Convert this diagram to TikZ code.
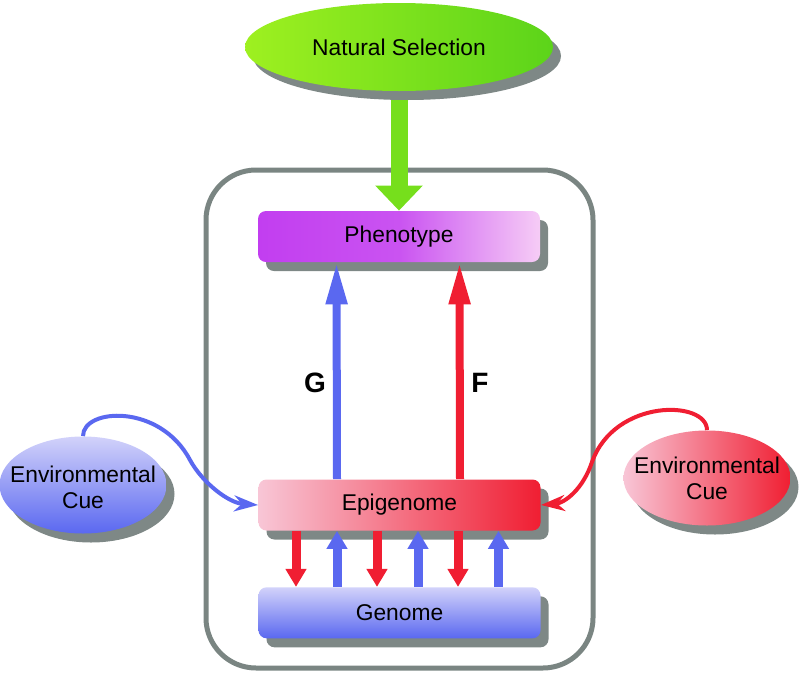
\documentclass[tikz,border=0pt]{standalone}
\usepackage{fontspec}
\setmainfont{Liberation Sans}
\usetikzlibrary{positioning,shapes.geometric,arrows.meta,shadows}
\definecolor{shadegray}{HTML}{7E8886}
\definecolor{framegray}{HTML}{7A8582}
\definecolor{cueblue}{HTML}{5A68F0}
\definecolor{cuelav}{HTML}{D2D2FA}
\definecolor{cuered}{HTML}{F01E32}
\definecolor{cuepink}{HTML}{F8C6D6}
\definecolor{selA}{HTML}{9EF020}
\definecolor{selB}{HTML}{5CD41A}
\definecolor{phenoA}{HTML}{C23EF0}
\definecolor{phenoB}{HTML}{F6CCF6}
\tikzstyle{shade}=[drop shadow={shadow xshift=4pt,shadow yshift=-4.5pt,fill=shadegray,opacity=1}]
\tikzstyle{box}=[rectangle,rounded corners=4pt,minimum width=141pt,minimum height=25.5pt,shade]
\tikzstyle{blob}=[ellipse,inner sep=0pt,shade]
\tikzstyle{blobtext}=[align=center,font=\fontsize{11.4}{13}\selectfont]
\tikzstyle{bigup}=[-{Triangle[length=21pt,width=10pt]},line width=4pt]
\tikzstyle{small}=[-{Triangle[length=9pt,width=10pt]},line width=4.5pt]
\tikzstyle{cuearrow}=[-{Stealth[length=12pt,width=8pt]},line width=2pt]

\begin{document}
\begin{tikzpicture}[x=0.5pt,y=-0.5pt,
      font=\fontsize{11.4}{12.5}\selectfont
      ]
      \useasboundingbox (0,0) rectangle (799,681);
      % frame of the organism
      \draw[framegray,line width=2.5pt,rounded corners=25pt] (206,170) rectangle (593,668);
      \node[box,left color=phenoA,right color=phenoB,middle color=phenoA!85!phenoB] (pheno) at (399,236.5) {Phenotype};
      \node[box,left color=cuepink,right color=cuered] (epi) at (399.5,505) {Epigenome};
      \node[box,top color=cuelav,bottom color=cueblue,below=28pt of epi] (gen) {Genome};
      \node[blob,minimum width=154pt,minimum height=44pt,left color=selA,right color=selB] (ns) at (399,47) {Natural Selection};
      \node[blob,minimum width=83.5pt,minimum height=48.5pt,top color=cuelav,bottom color=cueblue] (envL) at (83,485) {};
      \node[blobtext] (envLtext) at (83,487) {Environmental\\Cue};
      \node[blob,minimum width=83.5pt,minimum height=47.5pt,left color=cuepink,right color=cuered] (envR) at (707,478) {};
      \node[blobtext] (envRtext) at (envR) {Environmental\\Cue};
      % selection acts on the phenotype
      \draw[selB!60!selA,-{Triangle[length=12.5pt,width=23pt]},line width=8.5pt] ([yshift=-4.5pt]ns.south) -- (pheno.north);
      % G and F maps
      \draw[bigup,cueblue] ([xshift=-31.25pt]epi.north) -- ([xshift=-31.25pt]pheno.south);
      \draw[bigup,cuered] ([xshift=30.25pt]epi.north) -- ([xshift=30.25pt]pheno.south);
      \node[font=\fontsize{14}{16}\selectfont\bfseries] (glab) at (315,383) {G};
      \node[font=\fontsize{14}{16}\selectfont\bfseries] (flab) at (480,383) {F};
      % exchange between epigenome and genome
      \foreach \dx in {-51.75,-11.25,29.25}
        \draw[small,cuered] ([xshift=\dx pt]epi.south) -- ([xshift=\dx pt]gen.north);
      \foreach \dx in {-31.25,9.25,49.5}
        \draw[small,cueblue] ([xshift=\dx pt]gen.north) -- ([xshift=\dx pt]epi.south);
      % environmental cues
      \draw[cuearrow,cueblue] (envL.north) .. controls (83,408) and (160,403) .. (190,460)
        .. controls (202,482) and (228,503) .. (epi.west);
      \draw[cuearrow,cuered] (envR.north) .. controls (707,400) and (615,398) .. (592,462)
        .. controls (583,489) and (565,503) .. (epi.east);
    \end{tikzpicture}
\end{document}
